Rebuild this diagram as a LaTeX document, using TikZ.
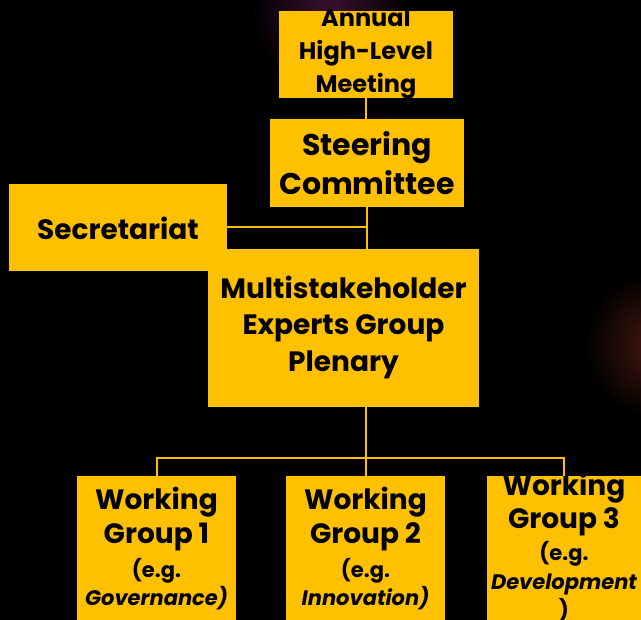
\documentclass[tikz,border=0pt]{standalone}
\usepackage{fontspec}
\setmainfont{Poppins}
\usetikzlibrary{calc}
\definecolor{gold}{HTML}{FFC000}
\definecolor{glow}{HTML}{4A1A10}
\definecolor{glowb}{HTML}{3A1030}
\tikzset{
  box/.style={fill=gold, draw=none, inner sep=0pt},
  lbl/.style={text=black, align=center, inner sep=0pt, font=\bfseries},
  conn/.style={draw=gold, line width=2pt},
}
\newcommand{\fs}[2]{\fontsize{#1}{#2}\selectfont}
\begin{document}
\begin{tikzpicture}[x=1pt,y=-1pt]
\fill[black] (0,0) rectangle (641,620);
\useasboundingbox (0,0) rectangle (641,620);
% glows
\shade[inner color=glowb, outer color=black] (330,10) circle (80);
\shade[inner color=glow, outer color=black] (660,345) circle (75);
% boxes
\node[box, minimum width=174pt, minimum height=87pt] (annual) at (366,54.5) {};
\node[box, minimum width=194pt, minimum height=88pt] (steer) at (367,163) {};
\node[box, minimum width=218pt, minimum height=87pt] (sec) at (118,227.5) {};
\node[box, minimum width=271pt, minimum height=158pt] (multi) at (343.5,328) {};
\node[box, minimum width=159pt, minimum height=144pt] (wg1) at (156.5,548) {};
\node[box, minimum width=159pt, minimum height=144pt] (wg2) at (365.5,548) {};
\node[box, minimum width=154pt, minimum height=144pt] (wg3) at (564,548) {};
% texts
\node[lbl, font=\bfseries\fs{24}{33}] (tannual) at (366,54) {Annual\\High-Level\\Meeting};
\node[lbl, font=\bfseries\fs{30}{39}] (tsteer) at (367,163) {Steering\\Committee};
\node[lbl, font=\bfseries\fs{28}{34}] (tsec) at (118,228) {Secretariat};
\node[lbl, font=\bfseries\fs{28}{36.5}] (tmulti) at (343.5,327) {Multistakeholder\\Experts Group\\Plenary};
\node[lbl, font=\bfseries\fs{28}{34}] (twg1) at (156.5,519) {Working\\Group 1};
\node[lbl, font=\bfseries\fs{21}{28}] (ewg1) at (156.5,584) {(e.g.\\\itshape Governance)};
\node[lbl, font=\bfseries\fs{28}{34}] (twg2) at (365.5,519) {Working\\Group 2};
\node[lbl, font=\bfseries\fs{21}{28}] (ewg2) at (365.5,584) {(e.g.\\\itshape Innovation)};
\node[lbl, font=\bfseries\fs{28}{33}] (twg3) at (564,505) {Working\\Group 3};
\node[lbl, font=\bfseries\fs{21}{28.5}] (ewg3) at (564,582) {(e.g.\\\itshape Development\\)};
% connectors
\draw[conn] (annual.south) -- (annual.south |- steer.north);
\draw[conn] (steer.south) -- (steer.south |- multi.north);
\draw[conn] (sec.east) -- (sec.east -| steer.south);
\coordinate (bus) at ($(multi.south -| wg2.north)!0.74!(wg2.north)$);
\draw[conn] (multi.south -| wg2.north) -- (wg2.north);
\draw[conn] (wg1.north) |- (bus) -| (wg3.north);
\end{tikzpicture}
\end{document}
